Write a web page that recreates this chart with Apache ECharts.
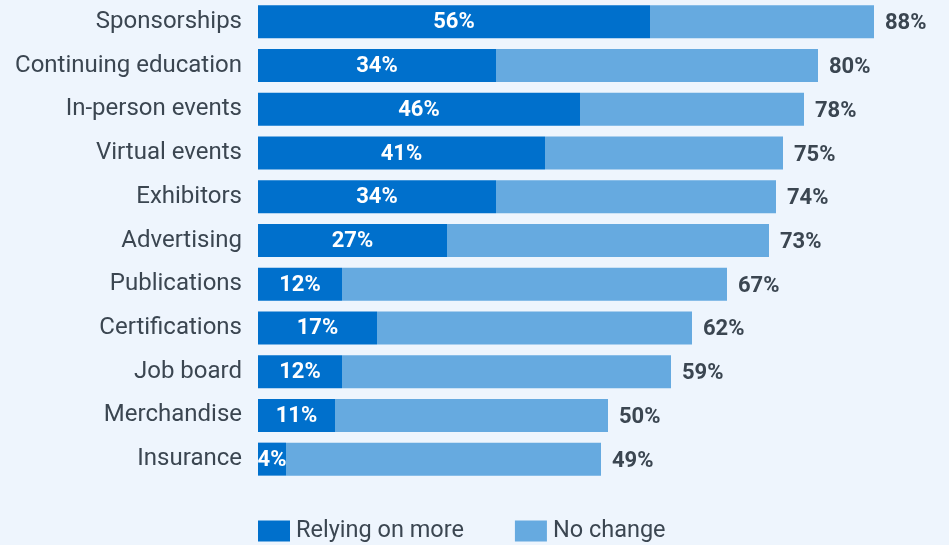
<!DOCTYPE html>
<html>
<head>
<meta charset="utf-8">
<script src="https://cdn.jsdelivr.net/npm/echarts@6/dist/echarts.min.js"></script>
<style>
  html, body { margin: 0; padding: 0; background: #eef5fd; }
  #chart { width: 949px; height: 545px; }
</style>
</head>
<body>
<div id="chart"></div>
<script>
// Revenue sources: share relying on more vs. total (relying on more + no change)
const categories = [
  'Sponsorships', 'Continuing education', 'In-person events', 'Virtual events',
  'Exhibitors', 'Advertising', 'Publications', 'Certifications',
  'Job board', 'Merchandise', 'Insurance'
];
const relyingOnMore = [56, 34, 46, 41, 34, 27, 12, 17, 12, 11, 4];
const totals = [88, 80, 78, 75, 74, 73, 67, 62, 59, 50, 49];
const noChange = totals.map((t, i) => t - relyingOnMore[i]);

const DARK = '#0070cc';
const LIGHT = '#66aae0';
const TEXT = '#3b4651';

const chart = echarts.init(document.getElementById('chart'), null, { renderer: 'canvas' });
chart.setOption({
  backgroundColor: '#eef5fd',
  animation: false,
  textStyle: { fontFamily: 'Roboto' },
  grid: { left: 258, right: 61, top: 0, bottom: 64, containLabel: false },
  xAxis: {
    type: 'value', min: 0, max: 90,
    show: false
  },
  yAxis: {
    type: 'category',
    data: categories,
    inverse: true,
    axisLine: { show: false },
    axisTick: { show: false },
    axisLabel: { color: TEXT, fontSize: 24, margin: 16, fontFamily: 'Roboto', padding: [3, 0, 0, 0] }
  },
  legend: {
    left: 253, bottom: -3,
    itemWidth: 32, itemHeight: 21, itemGap: 51,
    icon: 'rect',
    textStyle: { color: TEXT, fontSize: 23.5, fontFamily: 'Roboto', padding: [0, 0, 0, 1] },
    data: ['Relying on more', 'No change']
  },
  series: [
    {
      name: 'Relying on more',
      type: 'bar',
      stack: 'total',
      barWidth: 33,
      itemStyle: { color: DARK },
      label: {
        show: true, position: 'inside', offset: [0, 1],
        color: '#ffffff', fontSize: 22, fontWeight: 'bold', fontFamily: 'Roboto',
        formatter: p => p.value + '%'
      },
      data: relyingOnMore
    },
    {
      name: 'No change',
      type: 'bar',
      stack: 'total',
      barWidth: 33,
      itemStyle: { color: LIGHT },
      label: {
        show: true, position: 'right', distance: 11, offset: [0, 2],
        color: TEXT, fontSize: 22, fontWeight: 'bold', fontFamily: 'Roboto',
        formatter: p => totals[p.dataIndex] + '%'
      },
      data: noChange
    }
  ]
});
</script>
</body>
</html>
